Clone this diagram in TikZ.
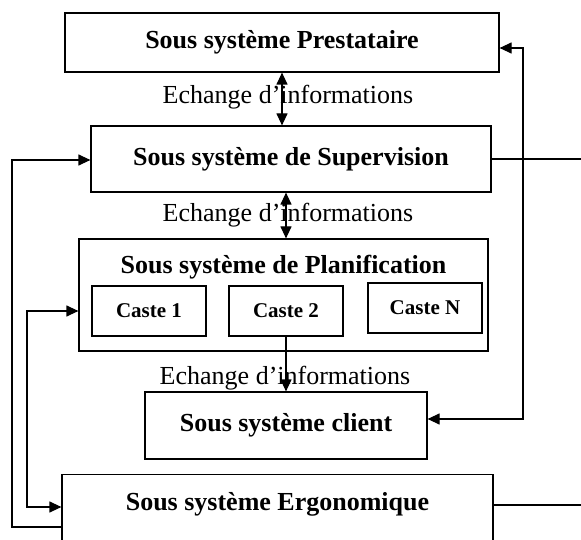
\documentclass[tikz,border=0pt]{standalone}
\usepackage{fontspec}
\setmainfont{Liberation Serif}
\usetikzlibrary{arrows.meta}

\begin{document}
\begin{tikzpicture}[x=1pt,y=-1pt,>={Triangle[length=12pt,width=11pt]},line width=1.2pt,
    boite/.style={draw,rectangle,inner sep=0pt,font=\fontsize{26}{30}\selectfont\bfseries},
    caste/.style={draw,rectangle,inner sep=0pt,minimum width=114,minimum height=50,font=\fontsize{21}{24}\selectfont\bfseries},
    echange/.style={font=\fontsize{26}{30}\selectfont}]

    \clip (0,0) rectangle (581,540);

    \node[boite,minimum width=434,minimum height=59] (presta) at (282,42.5) {Sous système Prestataire};
    \node[echange] (ech1) at (288,97) {Echange d’informations};
    \node[boite,minimum width=400,minimum height=66] (superv) at (291,159) {Sous système de Supervision};
    \node[echange] (ech2) at (288,215) {Echange d’informations};
    \node[boite,minimum width=409,minimum height=112] (planif) at (283.5,295) {};
    \node[font=\fontsize{26}{30}\selectfont\bfseries] (titreplanif) at (283.5,267) {Sous système de Planification};
    \node[caste] (caste1) at (149,311) {Caste 1};
    \node[caste] (caste2) at (286,311) {Caste 2};
    \node[caste] (casteN) at (425,308) {Caste N};
    \node[echange] (ech3) at (285,378) {Echange d’informations};
    \node[boite,minimum width=282,minimum height=67] (client) at (286,425.5) {Sous système client};
    \node[boite,minimum width=431,anchor=north,text height=36,text depth=60] (ergo) at (277.5,474) {Sous système Ergonomique};

    \coordinate (bordD) at (581,0);
    \coordinate (coinP) at (523,48);
    \coordinate (coinC) at (523,419);
    \coordinate (coinS) at (12,160);
    \coordinate (coinE) at (12,527);
    \coordinate (coinPl) at (27,311);
    \coordinate (coinEr) at (27,507);
    \coordinate (ergoD) at ([yshift=-31pt]ergo.north east);

    \draw[<->] (presta.south) -- (presta.south |- superv.north);
    \draw[<->] (caste2.north |- superv.south) -- (caste2.north |- planif.north);
    \draw[->] (caste2.south) -- (caste2.south |- client.north);
    \draw (superv.east) -- (superv.east -| bordD);
    \draw (ergoD) -- (ergoD -| bordD);
    \draw[<->] (presta.east |- coinP) -- (coinP) -- (coinC) -- (client.east |- coinC);
    \draw[->] (ergo.west |- coinE) -- (coinE) -- (coinS) -- (superv.west |- coinS);
    \draw[<->] (planif.west |- coinPl) -- (coinPl) -- (coinEr) -- (ergo.west |- coinEr);
\end{tikzpicture}
\end{document}
